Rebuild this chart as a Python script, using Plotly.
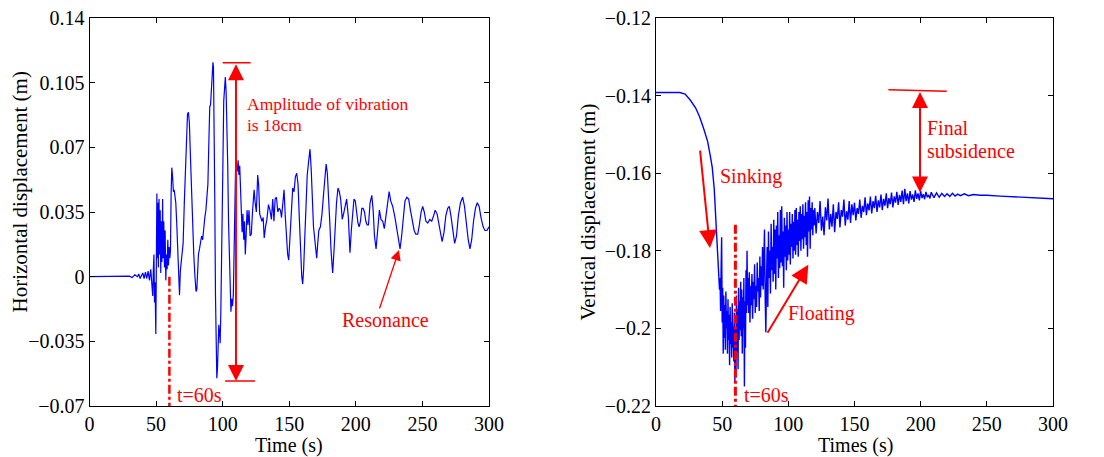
import plotly.graph_objects as go

# ---------------- data ----------------
t_h = [0, 10, 20, 25, 30, 32, 34, 36, 37, 38, 39, 40, 41, 42, 43, 44, 45, 46, 47, 47.5, 48, 48.4, 48.8, 49.2,
       49.8, 50.6, 50.9, 51.3, 51.7, 52.2, 52.7, 53.1, 53.5, 54.0, 54.4, 54.9, 55.3, 55.8, 56.3, 56.8, 57.3,
       57.8, 58.3, 58.8, 59.3, 59.8, 60.3, 60.8, 61.3, 61.8, 62.4, 63.0, 63.6, 64.2, 64.8, 65.5, 66.3, 67.0,
       67.6, 68.2, 68.8, 69.5, 70.3, 71.2, 72.0, 72.8, 73.6, 74.3, 75.0, 75.8, 76.6, 77.4, 78.3, 79.2, 80.0,
       80.6, 81.2, 81.8, 82.6, 83.4, 84.2, 85.0, 85.8, 86.6, 87.4, 88.2, 88.9, 89.6, 90.3, 90.9, 91.5, 92.1,
       92.7, 93.1, 93.6, 94.1, 94.6, 95.1, 95.6, 96.1, 96.6, 97.1, 97.6, 98.1, 98.6, 99.1, 99.6, 100.2, 100.8,
       101.4, 102.0, 102.6, 103.2, 103.8, 104.4, 105.0, 105.6, 106.2, 106.8, 107.4, 108.0, 108.6, 109.2,
       109.8, 110.4, 111.0, 111.6, 112.2, 112.8, 113.4, 114.0, 114.6, 115.2, 115.8, 116.4, 117.0, 117.6,
       118.3, 119.0, 119.8, 120.6, 121.5, 122.4, 123.6, 124.4, 125.3, 126.3, 127.0, 127.8, 128.6, 129.5,
       130.4, 131.2, 132.2, 133.2, 134.4, 135.5, 136.6, 137.6, 138.5, 139.4, 140.4, 141.4, 142.4, 143.4,
       144.2, 145.2, 146.1, 147.0, 148.0, 148.8, 149.6, 150.6, 151.6, 152.6, 153.6, 154.6, 155.6, 156.6,
       157.6, 158.6, 159.4, 160.1, 160.8, 161.6, 162.5, 163.5, 164.5, 165.6, 166.5, 167.3, 168.2, 169.2,
       170.6, 171.4, 172.2, 173.4, 174.6, 175.8, 176.8, 177.7, 178.6, 179.5, 180.4, 181.4, 182.6, 183.6,
       184.6, 185.5, 186.6, 187.6, 188.6, 189.8, 190.8, 191.8, 193.1, 194.4, 195.6, 196.6, 197.6, 198.6,
       199.6, 200.6, 201.6, 202.5, 203.5, 204.5, 205.5, 206.5, 207.5, 208.5, 209.5, 210.7, 212.0, 213.0,
       214.0, 215.2, 216.4, 217.7, 218.9, 220.2, 221.4, 222.7, 223.9, 225.0, 226.2, 227.7, 229.4, 230.7,
       231.9, 233.2, 234.4, 235.7, 236.9, 238.3, 239.7, 241.0, 242.5, 243.8, 245.0, 246.5, 247.7, 249.0,
       250.2, 251.4, 252.6, 254.0, 255.5, 257.0, 258.4, 259.6, 261.0, 262.4, 263.6, 264.8, 266.2, 267.6,
       269.0, 270.2, 271.4, 272.8, 274.2, 275.6, 277.0, 278.6, 280.2, 281.6, 283.0, 284.4, 285.7, 287.0,
       288.4, 289.8, 291.2, 292.6, 294.0, 295.6, 297.0, 298.4, 300.0]
x_h = [0, 0, 0.0002, 0, 0.0003, -0.0005, 0.001, 0, 0.0015, -0.001, 0.001, 0.002, -0.001, 0.0025, -0.001,
       0.003, -0.002, 0.004, -0.006, -0.0105, 0.005, 0.012, -0.014, -0.003,
       -0.031, 0.045, 0.010, 0.040, 0.005, 0.042, 0.012, 0.036, 0.002, 0.030, 0.008, 0.042, 0.010, 0.030,
       0.005, 0.025, -0.002, 0.012, 0.004, 0.020, 0.006, 0.016, 0.010, 0.014, 0.045, 0.059, 0.054, 0.046,
       0.047, 0.044, 0.040, 0.029, 0.015, -0.001, -0.010, 0.003, 0.008, 0.010, 0.018, 0.040, 0.060, 0.080,
       0.088, 0.089, 0.083, 0.065, 0.045, 0.030, 0.012, 0.000, -0.008, -0.007, 0.004, 0.012, 0.015, 0.018,
       0.022, 0.020, 0.028, 0.032, 0.036, 0.044, 0.050, 0.072, 0.092, 0.093, 0.103, 0.108, 0.116, 0.113,
       0.087, 0.040, -0.010, -0.048, -0.055, -0.050, -0.035, -0.026, -0.030, -0.036, -0.020, 0.000, 0.025,
       0.062, 0.095, 0.105, 0.108, 0.100, 0.085, 0.060, 0.030, 0.008, -0.010, -0.019, -0.012, -0.016,
       -0.010, 0.010, 0.040, 0.063, 0.058, 0.057, 0.063, 0.055, 0.060, 0.050, 0.038, 0.024, 0.034, 0.020,
       0.030, 0.012, 0.022, 0.036, 0.028, 0.036, 0.022, 0.023, 0.035, 0.047, 0.040, 0.035, 0.055, 0.050,
       0.034, 0.032, 0.030, 0.032, 0.021, 0.027, 0.031, 0.039, 0.036, 0.031, 0.042, 0.030, 0.042, 0.043,
       0.035, 0.037, 0.036, 0.032, 0.041, 0.047, 0.033, 0.020, 0.012, 0.009, 0.022, 0.041, 0.048, 0.046,
       0.054, 0.056, 0.050, 0.031, 0.010, 0.000, -0.004, 0.004, 0.020, 0.038, 0.055, 0.062, 0.069, 0.058,
       0.042, 0.027, 0.020, 0.010, 0.018, 0.025, 0.027, 0.034, 0.045, 0.054, 0.061, 0.056, 0.045, 0.030,
       0.014, 0.002, 0.014, 0.032, 0.040, 0.048, 0.046, 0.042, 0.031, 0.034, 0.038, 0.042, 0.032, 0.013,
       0.025, 0.036, 0.042, 0.041, 0.035, 0.029, 0.027, 0.030, 0.037, 0.037, 0.035, 0.030, 0.028, 0.028,
       0.040, 0.044, 0.036, 0.022, 0.015, 0.026, 0.036, 0.031, 0.030, 0.026, 0.033, 0.042, 0.046, 0.041,
       0.038, 0.032, 0.026, 0.020, 0.015, 0.022, 0.032, 0.041, 0.043, 0.042, 0.036, 0.031, 0.025, 0.023,
       0.023, 0.028, 0.035, 0.038, 0.035, 0.030, 0.029, 0.031, 0.030, 0.033, 0.036, 0.034, 0.028, 0.022,
       0.019, 0.024, 0.033, 0.037, 0.038, 0.033, 0.025, 0.018, 0.022, 0.033, 0.040, 0.043, 0.038, 0.028,
       0.020, 0.015, 0.020, 0.030, 0.037, 0.040, 0.038, 0.032, 0.027, 0.025, 0.025, 0.027]

# vertical displacement as (time, value) readings
vert_pts = [
    (0, -0.1392), (10, -0.1392), (18, -0.1392), (22, -0.1396), (26, -0.1412), (30, -0.1432),
    (33, -0.1455), (36, -0.1485), (39, -0.1518), (41, -0.1555), (42.5, -0.1585), (44, -0.1640),
    (45, -0.1700), (46, -0.1760), (47, -0.1840),
    (48.0, -0.1900), (48.4, -0.1870), (48.8, -0.1955), (49.2, -0.1850), (49.6, -0.1765), (50.0, -0.1985),
    (50.4, -0.1895), (50.8, -0.2065), (51.2, -0.1915), (51.6, -0.2025), (52.0, -0.1940), (52.4, -0.2055),
    (52.8, -0.1905), (53.2, -0.2000), (53.6, -0.1955), (54.0, -0.2065), (54.4, -0.1925), (54.8, -0.2030),
    (55.2, -0.1965), (55.6, -0.2095), (56.0, -0.1945), (56.4, -0.2040), (56.8, -0.1985), (57.2, -0.2075),
    (57.6, -0.1935), (58.0, -0.2050), (58.4, -0.1995), (58.8, -0.2085), (59.2, -0.1960), (59.6, -0.2140),
    (60.0, -0.2000), (60.4, -0.2125), (60.8, -0.1915), (61.2, -0.2060), (61.6, -0.1950), (62.0, -0.2105),
    (62.4, -0.1895), (62.8, -0.2030), (63.2, -0.1930), (63.6, -0.2005), (64.0, -0.1880), (64.4, -0.2020),
    (64.8, -0.1900), (65.2, -0.2065), (65.6, -0.1920), (66.0, -0.2000), (66.4, -0.1870), (66.8, -0.2150),
    (67.2, -0.1930), (67.6, -0.2050), (68.0, -0.1850), (68.4, -0.1960), (68.8, -0.1800), (69.2, -0.1940),
    (69.6, -0.1870),
    (70.0, -0.1960), (70.5, -0.1855), (71.0, -0.1985), (71.5, -0.1890), (72.0, -0.1940), (72.5, -0.1860),
    (73.0, -0.1975), (73.5, -0.1880), (74.0, -0.1925), (74.5, -0.1835), (75.0, -0.1960), (75.5, -0.1890),
    (76.0, -0.1945), (76.5, -0.1830), (77.0, -0.1905), (77.5, -0.1870), (78.0, -0.1955), (78.5, -0.1815),
    (79.0, -0.1920), (79.5, -0.1840), (80.0, -0.1890), (80.5, -0.1790), (81.0, -0.1900), (81.5, -0.1765),
    (82.0, -0.1745), (82.5, -0.1920), (83.0, -0.2010), (83.5, -0.1880), (84.0, -0.1790), (84.5, -0.1945),
    (85.0, -0.1750), (85.5, -0.1870), (86.0, -0.1800), (86.5, -0.1910), (87.0, -0.1730), (87.5, -0.1850),
    (88.0, -0.1790), (88.5, -0.1880), (89.0, -0.1720), (89.5, -0.1860), (90.0, -0.1745), (90.5, -0.1900),
    (91.0, -0.1735), (91.5, -0.1820), (92.0, -0.1700), (92.5, -0.1870), (93.0, -0.1760), (93.5, -0.1845),
    (94.0, -0.1695), (94.5, -0.1830), (95.0, -0.1685), (95.5, -0.1840), (96.0, -0.1750), (96.5, -0.1895),
    (97.0, -0.1715), (97.5, -0.1815), (98.0, -0.1735), (98.5, -0.1850), (99.0, -0.1700), (99.5, -0.1825),
    (100.0, -0.1745), (100.5, -0.1810), (101.0, -0.1700), (101.5, -0.1835), (102.0, -0.1730),
    (102.5, -0.1790), (103.0, -0.1705), (103.5, -0.1820), (104.0, -0.1725), (104.5, -0.1800),
    (105.0, -0.1695), (105.5, -0.1810), (106.0, -0.1690), (106.5, -0.1785), (107.0, -0.1720),
    (107.5, -0.1815), (108.0, -0.1700), (108.5, -0.1775), (109.0, -0.1685), (109.5, -0.1800),
    (110.0, -0.1705), (110.5, -0.1770), (111.0, -0.1680), (111.5, -0.1795), (112.0, -0.1710),
    (112.5, -0.1765), (113.0, -0.1675), (113.5, -0.1785), (114.0, -0.1700), (114.5, -0.1815),
    (115.0, -0.1670), (115.5, -0.1750), (116.0, -0.1660), (116.5, -0.1795), (117.0, -0.1690),
    (117.5, -0.1745), (118.0, -0.1675), (118.5, -0.1760), (119.0, -0.1695), (119.5, -0.1735),
    (120, -0.1690), (121, -0.1755), (122, -0.1700), (123, -0.1728), (124, -0.1672), (125, -0.1748),
    (126, -0.1712), (127, -0.1760), (128, -0.1688), (129, -0.1722), (130, -0.1665), (131, -0.1745),
    (132, -0.1705), (133, -0.1738), (134, -0.1680), (135, -0.1752), (136, -0.1700), (137, -0.1718),
    (138, -0.1675), (139, -0.1740), (140, -0.1695), (141, -0.1712), (142, -0.1668), (143, -0.1735),
    (144, -0.1698), (145, -0.1720), (146, -0.1672), (147, -0.1728), (148, -0.1680), (149, -0.1708),
    (150, -0.1676), (151, -0.1722), (152, -0.1690), (153, -0.1705), (154, -0.1668), (155, -0.1715),
    (156, -0.1684), (157, -0.1700), (158, -0.1662), (159, -0.1708), (160, -0.1678), (161, -0.1696),
    (162, -0.1660), (163, -0.1704), (164, -0.1672), (165, -0.1690), (166, -0.1658), (167, -0.1700),
    (168, -0.1670), (169, -0.1688), (170, -0.1655), (171, -0.1695), (172, -0.1666), (173, -0.1684),
    (174, -0.1652), (175, -0.1690), (176, -0.1664), (177, -0.1680), (178, -0.1650), (179, -0.1688),
    (180, -0.1660), (181, -0.1676), (182, -0.1648), (183, -0.1682), (184, -0.1656), (185, -0.1674),
    (186, -0.1645), (187, -0.1680), (188, -0.1640), (189, -0.1672), (190, -0.1652), (191, -0.1678),
    (192, -0.1646), (193, -0.1668), (194, -0.1655), (195, -0.1674), (196, -0.1644), (197, -0.1666),
    (198, -0.1652), (199, -0.1670), (200, -0.1646), (201, -0.1664), (202, -0.1654), (203, -0.1667),
    (204, -0.1648), (205, -0.1662), (206, -0.1656), (207, -0.1665), (208, -0.1649), (210, -0.1663),
    (212, -0.1651), (214, -0.1662), (216, -0.1652), (218, -0.1660), (220, -0.1653), (222, -0.1660),
    (224, -0.1652), (226, -0.1659), (228, -0.1654), (230, -0.1658), (233, -0.1653), (236, -0.1658),
    (240, -0.1655), (245, -0.1657), (250, -0.1657), (260, -0.1659), (270, -0.1661), (280, -0.1663),
    (290, -0.1665), (300, -0.1666),
]
t_v = [p[0] for p in vert_pts]
y_v = [p[1] for p in vert_pts]

x_ticks = [0, 50, 100, 150, 200, 250, 300]
y1_ticks = [-0.07, -0.035, 0, 0.035, 0.07, 0.105, 0.14]
y1_labels = ["\u22120.07", "\u22120.035", "0", "0.035", "0.07", "0.105", "0.14"]
y2_ticks = [-0.22, -0.2, -0.18, -0.16, -0.14, -0.12]
y2_labels = ["\u22120.22", "\u22120.2", "\u22120.18", "\u22120.16", "\u22120.14", "\u22120.12"]

# ---------------- figure ----------------
W, H = 1104, 457
FONT = "Liberation Serif, Times New Roman, DejaVu Serif, serif"
RED = "#ff0000"
BLUE = "#0000ff"

fig = go.Figure()
fig.add_trace(go.Scatter(x=t_h, y=x_h, mode="lines", line=dict(color=BLUE, width=1.2),
                         xaxis="x", yaxis="y", showlegend=False, hoverinfo="skip"))
fig.add_trace(go.Scatter(x=t_v, y=y_v, mode="lines", line=dict(color=BLUE, width=1.4),
                         xaxis="x2", yaxis="y2", showlegend=False, hoverinfo="skip"))

ydom = [1 - 406 / H, 1 - 18 / H]
axis_common = dict(showline=True, linecolor="black", linewidth=1, mirror="ticks", ticks="inside",
                   ticklen=5, tickwidth=1, tickcolor="black", showgrid=False, zeroline=False,
                   tickfont=dict(family=FONT, size=20, color="black"), automargin=False)

fig.update_layout(
    width=W, height=H, margin=dict(l=0, r=0, t=0, b=0),
    paper_bgcolor="white", plot_bgcolor="white",
    font=dict(family=FONT, size=20, color="black"),
    xaxis=dict(domain=[89.5 / W, 489 / W], range=[0, 300], tickvals=x_ticks, anchor="y", **axis_common),
    yaxis=dict(domain=ydom, range=[-0.07, 0.14], tickvals=y1_ticks, ticktext=y1_labels, anchor="x",
               **axis_common),
    xaxis2=dict(domain=[656 / W, 1053 / W], range=[0, 300], tickvals=x_ticks, anchor="y2", **axis_common),
    yaxis2=dict(domain=ydom, range=[-0.22, -0.12], tickvals=y2_ticks, ticktext=y2_labels, anchor="x2",
                **axis_common),
)

ann = []
ctr = dict(xanchor="center", yanchor="middle", xref="paper", yref="paper", showarrow=False)
# axis titles
ann.append(dict(text="Time (s)", x=289 / W, y=1 - 445 / H, font=dict(family=FONT, size=20), **ctr))
ann.append(dict(text="Times (s)", x=855 / W, y=1 - 445 / H, font=dict(family=FONT, size=20), **ctr))
ann.append(dict(text="Horizontal displacement (m)", x=19 / W, y=1 - 192.5 / H, textangle=-90,
                font=dict(family=FONT, size=21), **ctr))
ann.append(dict(text="Vertical displacement (m)", x=587 / W, y=1 - 212.5 / H, textangle=-90,
                font=dict(family=FONT, size=21), **ctr))

redf = dict(family=FONT, size=20, color=RED)
lt = dict(xanchor="left", yanchor="middle", showarrow=False)
# left panel texts
ann.append(dict(text="t=60s", x=64, y=-0.064, xref="x", yref="y", font=redf, **lt))
ann.append(dict(text="Amplitude of vibration", x=116.5, y=0.0932, xref="x", yref="y",
                font=dict(family=FONT, size=17.5, color=RED), **lt))
ann.append(dict(text="is 18cm", x=116.5, y=0.082, xref="x", yref="y",
                font=dict(family=FONT, size=17.5, color=RED), **lt))
ann.append(dict(text="Resonance", x=222.5, y=-0.0235, xref="x", yref="y", showarrow=False,
                xanchor="center", yanchor="middle", font=redf))
# left arrows
ann.append(dict(text="", x=110, y=-0.0565, ax=110, ay=0.1158, xref="x", yref="y", axref="x", ayref="y",
                showarrow=True, arrowside="end+start", arrowhead=2, arrowsize=1.6, arrowwidth=2,
                arrowcolor=RED, standoff=0, startstandoff=0, startarrowhead=2, startarrowsize=1.6))
ann.append(dict(text="", x=232.4, y=0.0144, ax=217.4, ay=-0.018, xref="x", yref="y", axref="x", ayref="y",
                showarrow=True, arrowhead=2, arrowsize=1.6, arrowwidth=1.3, arrowcolor=RED, standoff=0))
# right panel texts
ann.append(dict(text="t=60s", x=64.8, y=-0.2172, xref="x2", yref="y2", font=redf, **lt))
ann.append(dict(text="Sinking", x=47, y=-0.1609, xref="x2", yref="y2", font=redf, **lt))
ann.append(dict(text="Floating", x=98.5, y=-0.1961, xref="x2", yref="y2", font=redf, **lt))
ann.append(dict(text="Final", x=203.5, y=-0.1483, xref="x2", yref="y2", font=redf, **lt))
ann.append(dict(text="subsidence", x=203.5, y=-0.1544, xref="x2", yref="y2", font=redf, **lt))
# right arrows
ann.append(dict(text="", x=40.8, y=-0.1793, ax=33.2, ay=-0.1538, xref="x2", yref="y2", axref="x2", ayref="y2",
                showarrow=True, arrowhead=2, arrowsize=1.8, arrowwidth=2, arrowcolor=RED, standoff=0))
ann.append(dict(text="", x=115.1, y=-0.1836, ax=83.6, ay=-0.2015, xref="x2", yref="y2", axref="x2",
                ayref="y2", showarrow=True, arrowhead=2, arrowsize=1.8, arrowwidth=2, arrowcolor=RED,
                standoff=0))
ann.append(dict(text="", x=199.5, y=-0.165, ax=199.5, ay=-0.1387, xref="x2", yref="y2", axref="x2",
                ayref="y2", showarrow=True, arrowside="end+start", arrowhead=2, arrowsize=1.6,
                arrowwidth=2, arrowcolor=RED, standoff=0, startstandoff=0, startarrowhead=2,
                startarrowsize=1.6))
fig.update_layout(annotations=ann)

shapes = [
    dict(type="line", x0=60, x1=60, y0=0, y1=-0.07, xref="x", yref="y",
         line=dict(color=RED, width=2.5, dash="dashdot")),
    dict(type="line", x0=100, x1=121, y0=0.1158, y1=0.1158, xref="x", yref="y",
         line=dict(color=RED, width=1.5)),
    dict(type="line", x0=101.8, x1=124.3, y0=-0.0565, y1=-0.0565, xref="x", yref="y",
         line=dict(color=RED, width=1.5)),
    dict(type="line", x0=60, x1=60, y0=-0.1733, y1=-0.22, xref="x2", yref="y2",
         line=dict(color=RED, width=3, dash="dashdot")),
    dict(type="line", x0=175.6, x1=219.7, y0=-0.1385, y1=-0.1389, xref="x2", yref="y2",
         line=dict(color=RED, width=1.5)),
]
fig.update_layout(shapes=shapes)

fig.write_html("out.html")
